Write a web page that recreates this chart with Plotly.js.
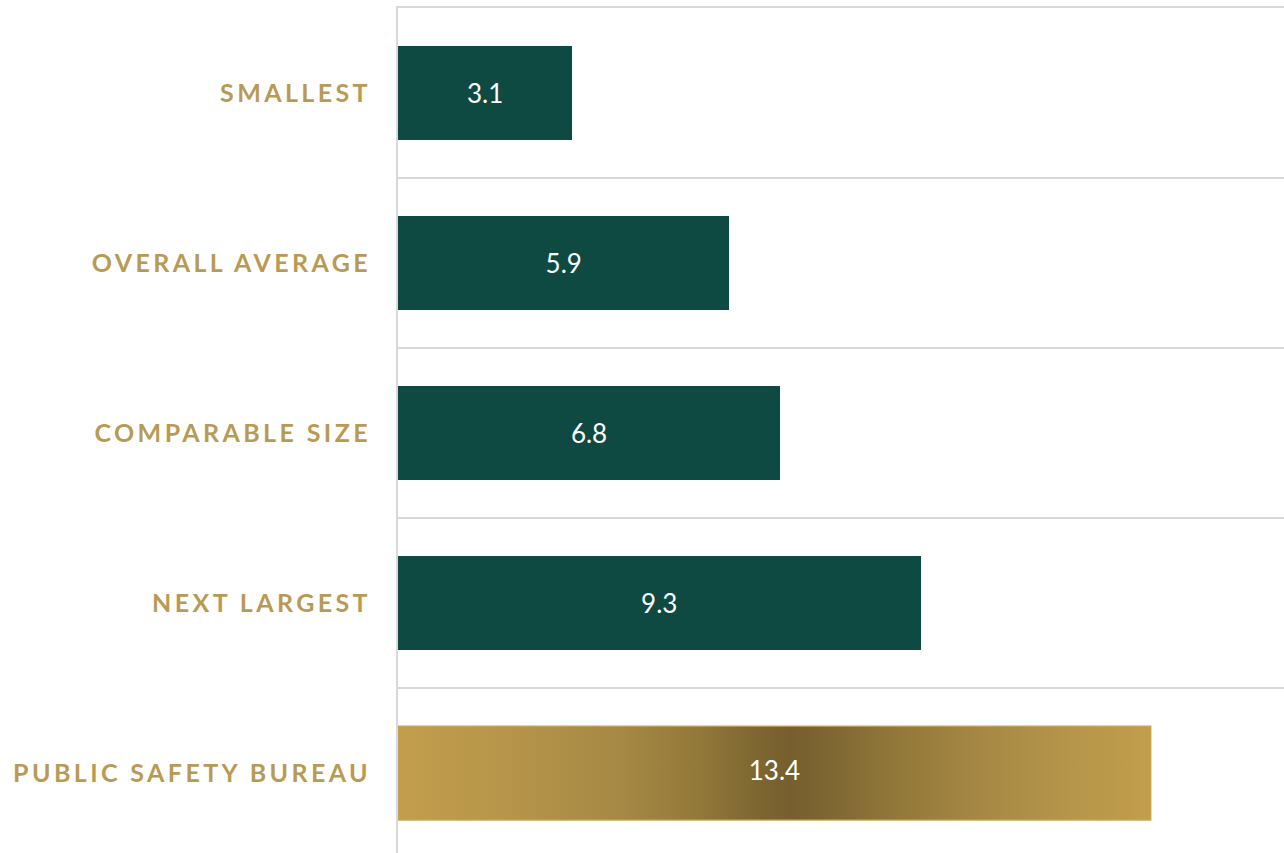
<!DOCTYPE html>
<html>
<head>
<meta charset="utf-8">
<script src="https://cdn.plot.ly/plotly-3.0.1.min.js"></script>
<style>
  html, body { margin: 0; padding: 0; background: #ffffff; }
  #chart { width: 1284px; height: 853px; }
  #chart .ytick text { letter-spacing: 3.4px; }
</style>
</head>
<body>
<div id="chart"></div>
<script>
// ---- data ----
const categories = ['SMALLEST', 'OVERALL AVERAGE', 'COMPARABLE SIZE', 'NEXT LARGEST', 'PUBLIC SAFETY BUREAU'];
const values = [3.1, 5.9, 6.8, 9.3, 13.4];
const valueLabels = ['3.1', '5.9', '6.8', '9.3', '13.4'];
const highlightIndex = 4; // PUBLIC SAFETY BUREAU

// ---- styles ----
const green = '#0E4A42';
const gold = '#B99A55';
const barWidth = 0.553;
const positions = categories.map((c, i) => i);

const barColors = categories.map((c, i) => i === highlightIndex ? '#A98B46' : green);
const barTexts = valueLabels.map((t, i) => i === highlightIndex ? '' : t);

const bars = {
  type: 'bar',
  orientation: 'h',
  y: positions,
  x: values,
  width: barWidth,
  marker: { color: barColors, line: { width: 0 } },
  text: barTexts,
  textposition: 'inside',
  insidetextanchor: 'middle',
  textangle: 0,
  textfont: { family: 'Lato, sans-serif', size: 26, color: '#ffffff' },
  hoverinfo: 'skip',
  showlegend: false
};

// gradient overlay for the highlighted bar (coordinates derived from the data)
const hv = values[highlightIndex];
const hy = positions[highlightIndex];
const gradientBar = {
  type: 'scatter',
  mode: 'lines',
  x: [0, hv, hv, 0, 0],
  y: [hy - barWidth / 2, hy - barWidth / 2, hy + barWidth / 2, hy + barWidth / 2, hy - barWidth / 2],
  fill: 'toself',
  fillgradient: {
    type: 'horizontal',
    start: 0,
    stop: hv,
    colorscale: [
      [0, '#C29E4C'],
      [0.15, '#B6954A'],
      [0.3, '#A58844'],
      [0.4, '#927839'],
      [0.46, '#826A33'],
      [0.52, '#765E2E'],
      [0.58, '#806833'],
      [0.66, '#917739'],
      [0.78, '#A78945'],
      [0.9, '#B6964A'],
      [1, '#C29E4C']
    ]
  },
  line: { color: '#C8A85C', width: 1.2 },
  hoverinfo: 'skip',
  showlegend: false
};

const gradientText = {
  type: 'scatter',
  mode: 'text',
  x: [hv / 2],
  y: [hy],
  text: [valueLabels[highlightIndex]],
  textposition: 'middle center',
  textfont: { family: 'Lato, sans-serif', size: 26, color: '#ffffff' },
  hoverinfo: 'skip',
  showlegend: false
};

const layout = {
  width: 1284,
  height: 853,
  margin: { l: 398, r: 0, t: 8, b: 0, pad: 0 },
  paper_bgcolor: '#ffffff',
  plot_bgcolor: '#ffffff',
  showlegend: false,
  bargap: 0,
  xaxis: {
    range: [0, 15.77],
    side: 'top',
    showgrid: false,
    zeroline: false,
    showticklabels: false,
    ticks: '',
    showline: true,
    linecolor: '#D9D9D9',
    linewidth: 2,
    fixedrange: true
  },
  yaxis: {
    range: [4.47, -0.5],
    tickmode: 'array',
    tickvals: positions,
    ticktext: categories,
    ticks: '',
    showgrid: false,
    zeroline: false,
    showline: true,
    linecolor: '#D9D9D9',
    linewidth: 2,
    ticklabelstandoff: 20,
    tickfont: { family: 'Lato, sans-serif', size: 25, color: gold, weight: 700 },
    minor: {
      tick0: -0.5,
      dtick: 1,
      showgrid: true,
      gridcolor: '#D9D9D9',
      gridwidth: 2,
      ticks: ''
    },
    fixedrange: true
  }
};

Plotly.newPlot('chart', [bars, gradientBar, gradientText], layout, { displayModeBar: false, staticPlot: true });
</script>
</body>
</html>
